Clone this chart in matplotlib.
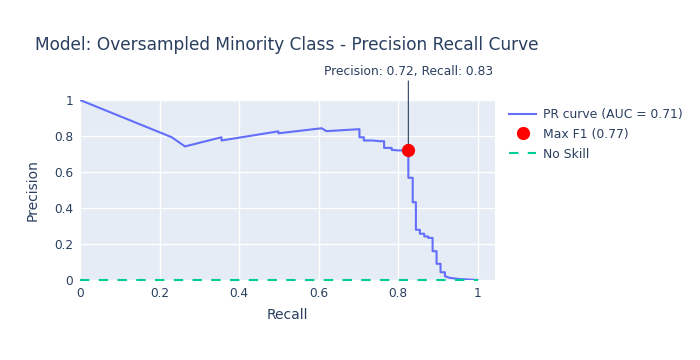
import matplotlib
matplotlib.use("Agg")
import matplotlib.pyplot as plt

plt.rcParams['font.family'] = ['DejaVu Sans']

recall = [0.0, 0.231, 0.264, 0.356, 0.356, 0.499, 0.499, 0.608, 0.62, 0.703, 0.703, 0.714, 0.714,
          0.735, 0.755, 0.765, 0.765, 0.784, 0.784, 0.80, 0.826, 0.826, 0.837, 0.837, 0.845, 0.845,
          0.855, 0.855, 0.866, 0.866, 0.876, 0.876, 0.887, 0.887, 0.897, 0.897, 0.907, 0.907,
          0.918, 0.918, 0.93, 0.956, 1.0]
precision = [1.0, 0.793, 0.742, 0.793, 0.775, 0.826, 0.815, 0.843, 0.827, 0.838, 0.793, 0.793, 0.775,
             0.775, 0.771, 0.771, 0.734, 0.734, 0.723, 0.72, 0.72, 0.568, 0.568, 0.432, 0.432, 0.279,
             0.279, 0.257, 0.257, 0.242, 0.242, 0.234, 0.234, 0.16, 0.16, 0.09, 0.09, 0.043,
             0.043, 0.021, 0.012, 0.005, 0.0]
best_recall = 0.826
best_precision = 0.72
auc_value = 0.71
best_f1 = 0.77
noskill_x = [0, 1]
noskill_y = [0.0, 0.0]
ticks = [0, 0.2, 0.4, 0.6, 0.8, 1]
tick_labels = ['0', '0.2', '0.4', '0.6', '0.8', '1']

TXT = '#2a3f5f'
fig = plt.figure(figsize=(7, 3.6), dpi=100)
ax = fig.add_axes([80/700, 80/360, 415/700, 180/360])
ax.set_facecolor('#E5ECF6')
for s in ax.spines.values():
    s.set_visible(False)
ax.set_xlim(0, 1.044)
ax.set_ylim(0, 1)
ax.set_xticks(ticks)
ax.set_xticklabels(tick_labels)
ax.set_yticks(ticks)
ax.set_yticklabels(tick_labels)
ax.grid(True, color='white', lw=1)
ax.set_axisbelow(True)
ax.tick_params(length=0, labelsize=8.7, labelcolor=TXT, pad=5)

ax.plot(recall, precision, color='#636efa', lw=1.5, label=f'PR curve (AUC = {auc_value:.2f})', zorder=3)
ax.plot([best_recall], [best_precision], 'o', color='red', ms=8.5, label=f'Max F1 ({best_f1:.2f})', zorder=5)
ax.plot(noskill_x, noskill_y, color='#00cc96', lw=1.5, dashes=(4.5, 4.5), label='No Skill', zorder=4, clip_on=False)

ax.annotate(f'Precision: {best_precision:.2f}, Recall: {best_recall:.2f}',
            xy=(best_recall, best_precision), xytext=(0, 52), textcoords='offset points',
            ha='center', va='bottom', fontsize=8.8, color=TXT,
            arrowprops=dict(arrowstyle='-|>,head_length=0.35,head_width=0.15', color=TXT, lw=0.8,
                            shrinkA=0, shrinkB=0))

ax.set_xlabel('Recall', fontsize=10, color=TXT, labelpad=6)
ax.set_ylabel('Precision', fontsize=10, color=TXT, labelpad=10)

fig.text(35/700, 1 - 45/360, 'Model: Oversampled Minority Class - Precision Recall Curve',
         fontsize=12.28, color=TXT, va='center', ha='left')

leg = ax.legend(loc='upper left', bbox_to_anchor=(509/700, 1 - 108/360), bbox_transform=fig.transFigure,
                frameon=False, fontsize=8.9, labelcolor=TXT, handlelength=2.2, handletextpad=0.55,
                labelspacing=0.55, borderaxespad=0, borderpad=0)

fig.savefig('out.png', dpi=100, facecolor='white')
